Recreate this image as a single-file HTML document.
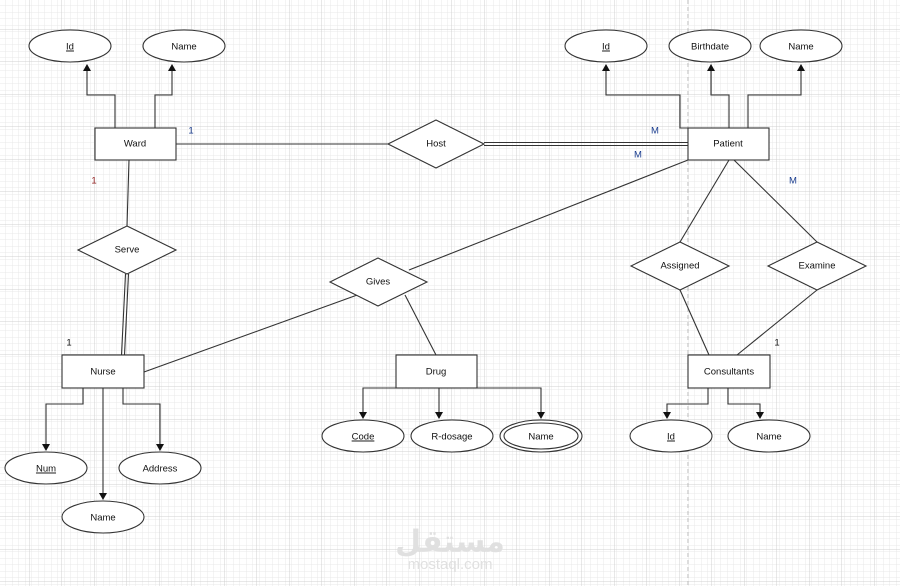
<!DOCTYPE html>
<html><head><meta charset="utf-8"><style>
html,body{margin:0;padding:0;background:#fff}
svg{display:block}
text{font-family:"Liberation Sans",sans-serif;font-size:9.5px;fill:#111;text-anchor:middle;dominant-baseline:middle}
</style></head><body>
<svg width="900" height="586" viewBox="0 0 900 586" xmlns="http://www.w3.org/2000/svg">
<defs>
<pattern id="mn" width="6.5" height="6.5" patternUnits="userSpaceOnUse" x="3" y="3">
<path d="M6.5 0V6.5M0 6.5H6.5" stroke="#e8e8e8" stroke-width="1" fill="none"/></pattern>
<pattern id="mj" width="32.5" height="32.5" patternUnits="userSpaceOnUse" x="29" y="29">
<rect width="32.5" height="32.5" fill="url(#mn)"/>
<path d="M0 0V32.5M0 0H32.5" stroke="#d0d0d0" stroke-width="1" fill="none"/></pattern>
<marker id="a" markerWidth="8" markerHeight="8" refX="6" refY="4" orient="auto" markerUnits="userSpaceOnUse"><path d="M0 0L7 4L0 8Z" fill="#111"/></marker>
</defs>
<rect width="900" height="586" fill="url(#mj)"/>
<line x1="688" y1="0" x2="688" y2="586" stroke="#bbb" stroke-dasharray="4,3"/>
<g fill="none" stroke="#333" stroke-width="1.1">
<path d="M115 128V95H87V65" marker-end="url(#a)"/>
<path d="M155 128V95H172V65" marker-end="url(#a)"/>
<path d="M688 128H680V95H606V65" marker-end="url(#a)"/>
<path d="M729 128V95H711V65" marker-end="url(#a)"/>
<path d="M748 128V95H801V65" marker-end="url(#a)"/>
<line x1="176" y1="144" x2="388" y2="144"/>
<line x1="484" y1="142.5" x2="688" y2="142.5"/>
<line x1="484" y1="145.5" x2="688" y2="145.5"/>
<line x1="129" y1="160" x2="127" y2="226"/>
<line x1="125.5" y1="274" x2="121.5" y2="355"/>
<line x1="128.5" y1="274" x2="124.5" y2="355"/>
<line x1="688" y1="160" x2="409" y2="270"/>
<line x1="360" y1="294" x2="144" y2="372"/>
<line x1="405" y1="295" x2="436" y2="355"/>
<line x1="729" y1="160" x2="680" y2="242"/>
<line x1="734" y1="160" x2="817" y2="242"/>
<line x1="680" y1="290" x2="709" y2="355"/>
<line x1="817" y1="290" x2="737" y2="355"/>
<path d="M83 388V404H46V450" marker-end="url(#a)"/>
<path d="M123 388V404H160V450" marker-end="url(#a)"/>
<path d="M103 388V499" marker-end="url(#a)"/>
<path d="M396 388H363V418" marker-end="url(#a)"/>
<path d="M439 388V418" marker-end="url(#a)"/>
<path d="M477 388H541V418" marker-end="url(#a)"/>
<path d="M708 388V404H667V418" marker-end="url(#a)"/>
<path d="M728 388V404H760V418" marker-end="url(#a)"/>
</g>
<g fill="#fff" stroke="#333" stroke-width="1.1">
<ellipse cx="70" cy="46" rx="41" ry="16"/><ellipse cx="184" cy="46" rx="41" ry="16"/>
<ellipse cx="606" cy="46" rx="41" ry="16"/><ellipse cx="710" cy="46" rx="41" ry="16"/><ellipse cx="801" cy="46" rx="41" ry="16"/>
<rect x="95" y="128" width="81" height="32"/>
<rect x="688" y="128" width="81" height="32"/>
<rect x="62" y="355" width="82" height="33"/>
<rect x="396" y="355" width="81" height="33"/>
<rect x="688" y="355" width="82" height="33"/>
<path d="M388 144L436 120L484 144L436 168Z"/>
<path d="M78 250L127 226L176 250L127 274Z"/>
<path d="M330 282L378 258L427 282L378 306Z"/>
<path d="M631 266L680 242L729 266L680 290Z"/>
<path d="M768 266L817 242L866 266L817 290Z"/>
<ellipse cx="46" cy="468" rx="41" ry="16"/><ellipse cx="160" cy="468" rx="41" ry="16"/><ellipse cx="103" cy="517" rx="41" ry="16"/>
<ellipse cx="363" cy="436" rx="41" ry="16"/><ellipse cx="452" cy="436" rx="41" ry="16"/>
<ellipse cx="541" cy="436" rx="41" ry="16"/><ellipse cx="541" cy="436" rx="37" ry="13"/>
<ellipse cx="671" cy="436" rx="41" ry="16"/><ellipse cx="769" cy="436" rx="41" ry="16"/>
</g>
<g>
<text x="70" y="47" text-decoration="underline">Id</text><text x="184" y="47">Name</text>
<text x="606" y="47" text-decoration="underline">Id</text><text x="710" y="47">Birthdate</text><text x="801" y="47">Name</text>
<text x="135" y="144">Ward</text><text x="728" y="144">Patient</text>
<text x="103" y="372">Nurse</text><text x="436" y="372">Drug</text><text x="729" y="372">Consultants</text>
<text x="436" y="144">Host</text><text x="127" y="250">Serve</text><text x="378" y="282">Gives</text>
<text x="680" y="266">Assigned</text><text x="817" y="266">Examine</text>
<text x="46" y="469" text-decoration="underline">Num</text><text x="160" y="469">Address</text><text x="103" y="518">Name</text>
<text x="363" y="437" text-decoration="underline">Code</text><text x="452" y="437">R-dosage</text><text x="541" y="437">Name</text>
<text x="671" y="437" text-decoration="underline">Id</text><text x="769" y="437">Name</text>
<text x="191" y="131" style="fill:#1a3d8f">1</text>
<text x="94" y="181" style="fill:#8b1a1a">1</text>
<text x="655" y="131" style="fill:#1a3d8f">M</text>
<text x="638" y="155" style="fill:#1a3d8f">M</text>
<text x="793" y="181" style="fill:#1a3d8f">M</text>
<text x="69" y="343">1</text>
<text x="777" y="343">1</text>
<text x="450" y="543" style="font-size:30px;font-weight:bold;fill:#e0e0e0;font-family:'DejaVu Sans',sans-serif">مستقل</text>
<text x="450" y="565" style="font-size:15px;fill:#e0e0e0">mostaql.com</text>
</g>
</svg>
</body></html>
